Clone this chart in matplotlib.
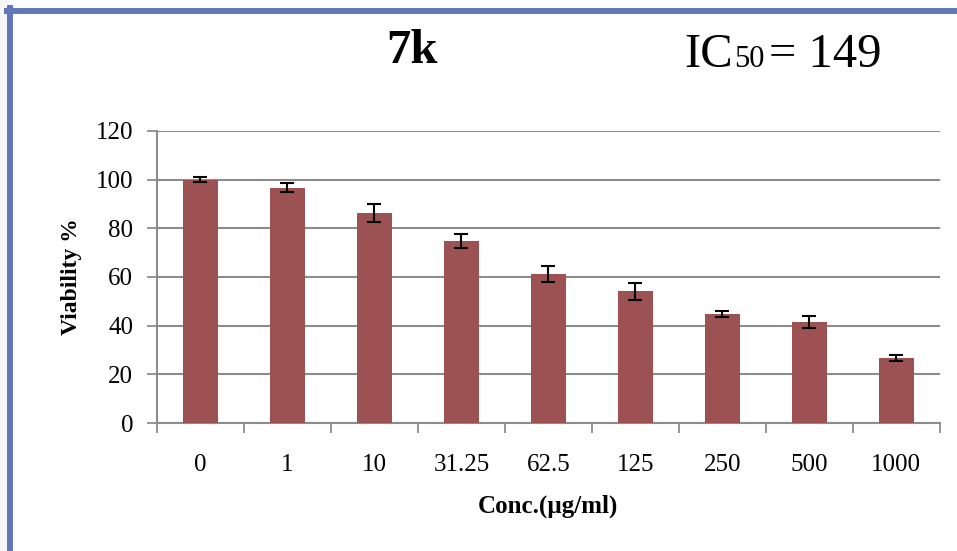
import matplotlib.pyplot as plt
from matplotlib.lines import Line2D
from matplotlib.patches import Rectangle
from matplotlib.ticker import FixedLocator

# data
conc_labels = ['0', '1', '10', '31.25', '62.5', '125', '250', '500', '1000']
viability = [100.0, 96.7, 86.2, 74.7, 61.3, 54.1, 44.8, 41.4, 26.7]
errors = [1.0, 1.9, 3.7, 2.9, 3.4, 3.6, 1.1, 2.5, 1.3]

plt.rcParams['font.family'] = ['Liberation Serif', 'DejaVu Serif']

fig = plt.figure(figsize=(9.57, 5.51), dpi=100)
ax = fig.add_axes([0.164, 0.2323, 0.818, 0.530])

x = list(range(len(viability)))
ax.bar(x, viability, width=0.4, color='#9C5252', zorder=3)
ax.errorbar(x, viability, yerr=errors, fmt='none', ecolor='black',
            elinewidth=1.5, capsize=5, capthick=1.5, zorder=4)

ax.set_xlim(-0.5, len(viability) - 0.5)
ax.set_ylim(0, 120)
ax.set_yticks(range(0, 121, 20))
ax.set_xticks(x)
ax.set_xticklabels(conc_labels)
ax.xaxis.set_minor_locator(FixedLocator([i - 0.5 for i in range(len(viability) + 1)]))
ax.tick_params(axis='x', which='major', length=0, pad=22, labelsize=18)
ax.tick_params(axis='x', which='minor', length=7, color='#8c8c8c', width=1.3)
ax.tick_params(axis='y', length=7, color='#8c8c8c', width=1.3, labelsize=18, pad=10)

ax.grid(axis='y', color='#8c8c8c', linewidth=1.5, zorder=0)
ax.set_axisbelow(True)
for side in ['top', 'right']:
    ax.spines[side].set_visible(False)
for side in ['left', 'bottom']:
    ax.spines[side].set_color('#8c8c8c')
    ax.spines[side].set_linewidth(1.5)

ax.set_xlabel('Conc.(µg/ml)', fontsize=18, fontweight='bold', labelpad=14)
ax.set_ylabel('Viability %', fontsize=17, fontweight='bold', labelpad=10)

# titles
fig.text(412 / 957, 1 - 51 / 551, '7k', fontsize=35, fontweight='bold',
         ha='center', va='center')
fig.text(684 / 957, 1 - 67 / 551, 'IC', fontsize=35, ha='left', va='baseline')
fig.text(734 / 957, 1 - 67 / 551, '50', fontsize=22, ha='left', va='baseline')
fig.text(769 / 957, 1 - 67 / 551, '= 149', fontsize=35, ha='left', va='baseline')

# blue frame on the left and top, light grey strip outside it
fig.add_artist(Rectangle((0, 0), 8 / 957, 1, color='#f6f6f6',
                         transform=fig.transFigure, zorder=0))
blue = '#6277B9'
fig.add_artist(Line2D([10.3 / 957, 10.3 / 957], [0, 1 - 8 / 551], color=blue,
                      linewidth=4.3, transform=fig.transFigure))
fig.add_artist(Line2D([7.3 / 957, 1], [1 - 11 / 551, 1 - 11 / 551], color=blue,
                      linewidth=4.3, transform=fig.transFigure))

fig.savefig('out.png', dpi=100)
